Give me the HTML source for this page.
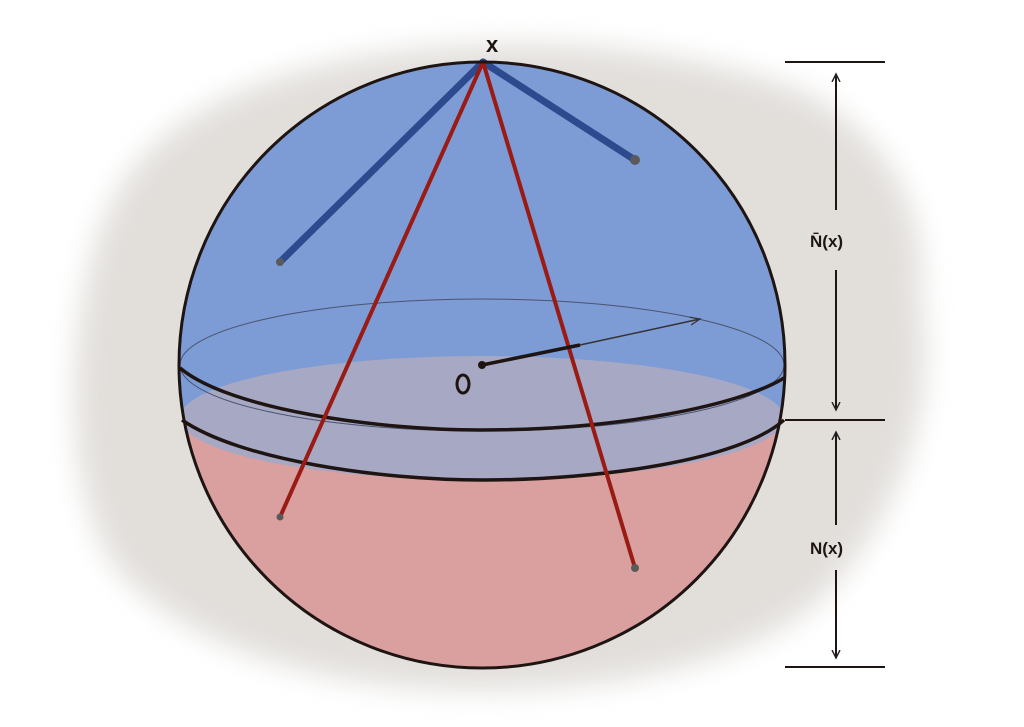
<!DOCTYPE html>
<html><head><style>html,body{margin:0;padding:0;background:#fff;}svg{display:block}</style></head>
<body>
<svg width="1024" height="727" viewBox="0 0 1024 727" xmlns="http://www.w3.org/2000/svg">
<defs>
<filter id="bl" x="-20%" y="-20%" width="140%" height="140%"><feGaussianBlur stdDeviation="14"/></filter>
<clipPath id="sph"><circle cx="482" cy="365" r="303"/></clipPath>
<marker id="ah" markerWidth="10" markerHeight="10" refX="8" refY="5" orient="auto-start-reverse" markerUnits="userSpaceOnUse"><path d="M0,1 L8,5 L0,9" fill="none" stroke="#222" stroke-width="1.4"/></marker>
<marker id="ah2" markerWidth="12" markerHeight="12" refX="10" refY="6" orient="auto" markerUnits="userSpaceOnUse"><path d="M0,2 L10,6 L0,10" fill="none" stroke="#333" stroke-width="1.2"/></marker>
</defs>
<rect width="1024" height="727" fill="#fff"/>
<path filter="url(#bl)" fill="#e2dfdb" d="M150,150 C220,80 350,50 480,45 C600,40 720,60 800,90 C880,130 930,200 920,300 C940,400 900,520 820,600 C740,670 600,690 480,690 C330,690 180,650 110,560 C60,470 70,320 100,230 C115,190 130,170 150,150 Z"/>
<g clip-path="url(#sph)">
<rect x="170" y="50" width="630" height="630" fill="#7d9bd4"/>
<rect x="170" y="418" width="630" height="270" fill="#d9a09f"/>
<ellipse cx="482" cy="418" rx="302" ry="62" fill="#a7a8c4"/>
</g>
<ellipse cx="482" cy="365" rx="302" ry="66" fill="none" stroke="#4a5470" stroke-width="1"/>
<path d="M180,368 C230,410 380,430 480,430 C620,430 740,405 784,378" fill="none" stroke="#1e1512" stroke-width="3.5"/>
<path d="M182,420 C240,460 380,480 482,480 C600,480 740,460 784,420" fill="none" stroke="#1e1512" stroke-width="3.5"/>
<line x1="483" y1="62" x2="280" y2="262" stroke="#2e4a8e" stroke-width="7" stroke-linecap="round"/>
<line x1="483" y1="62" x2="635" y2="160" stroke="#2e4a8e" stroke-width="7" stroke-linecap="round"/>
<circle cx="280" cy="262" r="4" fill="#5a5a5a"/><circle cx="635" cy="160" r="5" fill="#5a5a5a"/>
<line x1="483" y1="62" x2="280" y2="517" stroke="#9a1b14" stroke-width="4"/>
<line x1="483" y1="62" x2="635" y2="568" stroke="#9a1b14" stroke-width="4"/>
<circle cx="280" cy="517" r="3.5" fill="#5a5a5a"/><circle cx="635" cy="568" r="4" fill="#5a5a5a"/>
<line x1="482" y1="365" x2="580" y2="345" stroke="#1e1512" stroke-width="3.5"/>
<line x1="580" y1="345" x2="700" y2="319" stroke="#333" stroke-width="1.5" marker-end="url(#ah2)"/>
<circle cx="482" cy="365" r="4" fill="#1e1512"/>
<ellipse cx="463" cy="384" rx="6" ry="9" fill="none" stroke="#1e1512" stroke-width="3"/>
<circle cx="482" cy="365" r="303" fill="none" stroke="#1e1512" stroke-width="3"/>
<text x="486" y="52" font-family="Liberation Sans, sans-serif" font-size="22" font-weight="bold" fill="#1e1512">x</text>
<g stroke="#1e1512" stroke-width="2" fill="none">
<line x1="785" y1="62" x2="885" y2="62"/><line x1="785" y1="420" x2="885" y2="420"/><line x1="785" y1="667" x2="885" y2="667"/>
<line x1="836" y1="74" x2="836" y2="210" marker-start="url(#ah)"/>
<line x1="836" y1="270" x2="836" y2="410" marker-end="url(#ah)"/>
<line x1="836" y1="432" x2="836" y2="525" marker-start="url(#ah)"/>
<line x1="836" y1="570" x2="836" y2="658" marker-end="url(#ah)"/>
</g>
<text x="810" y="247" font-family="Liberation Sans, sans-serif" font-size="17" font-weight="bold" fill="#1e1512">N̄(x)</text>
<text x="810" y="554" font-family="Liberation Sans, sans-serif" font-size="17" font-weight="bold" fill="#1e1512">N(x)</text>
</svg>
</body></html>
